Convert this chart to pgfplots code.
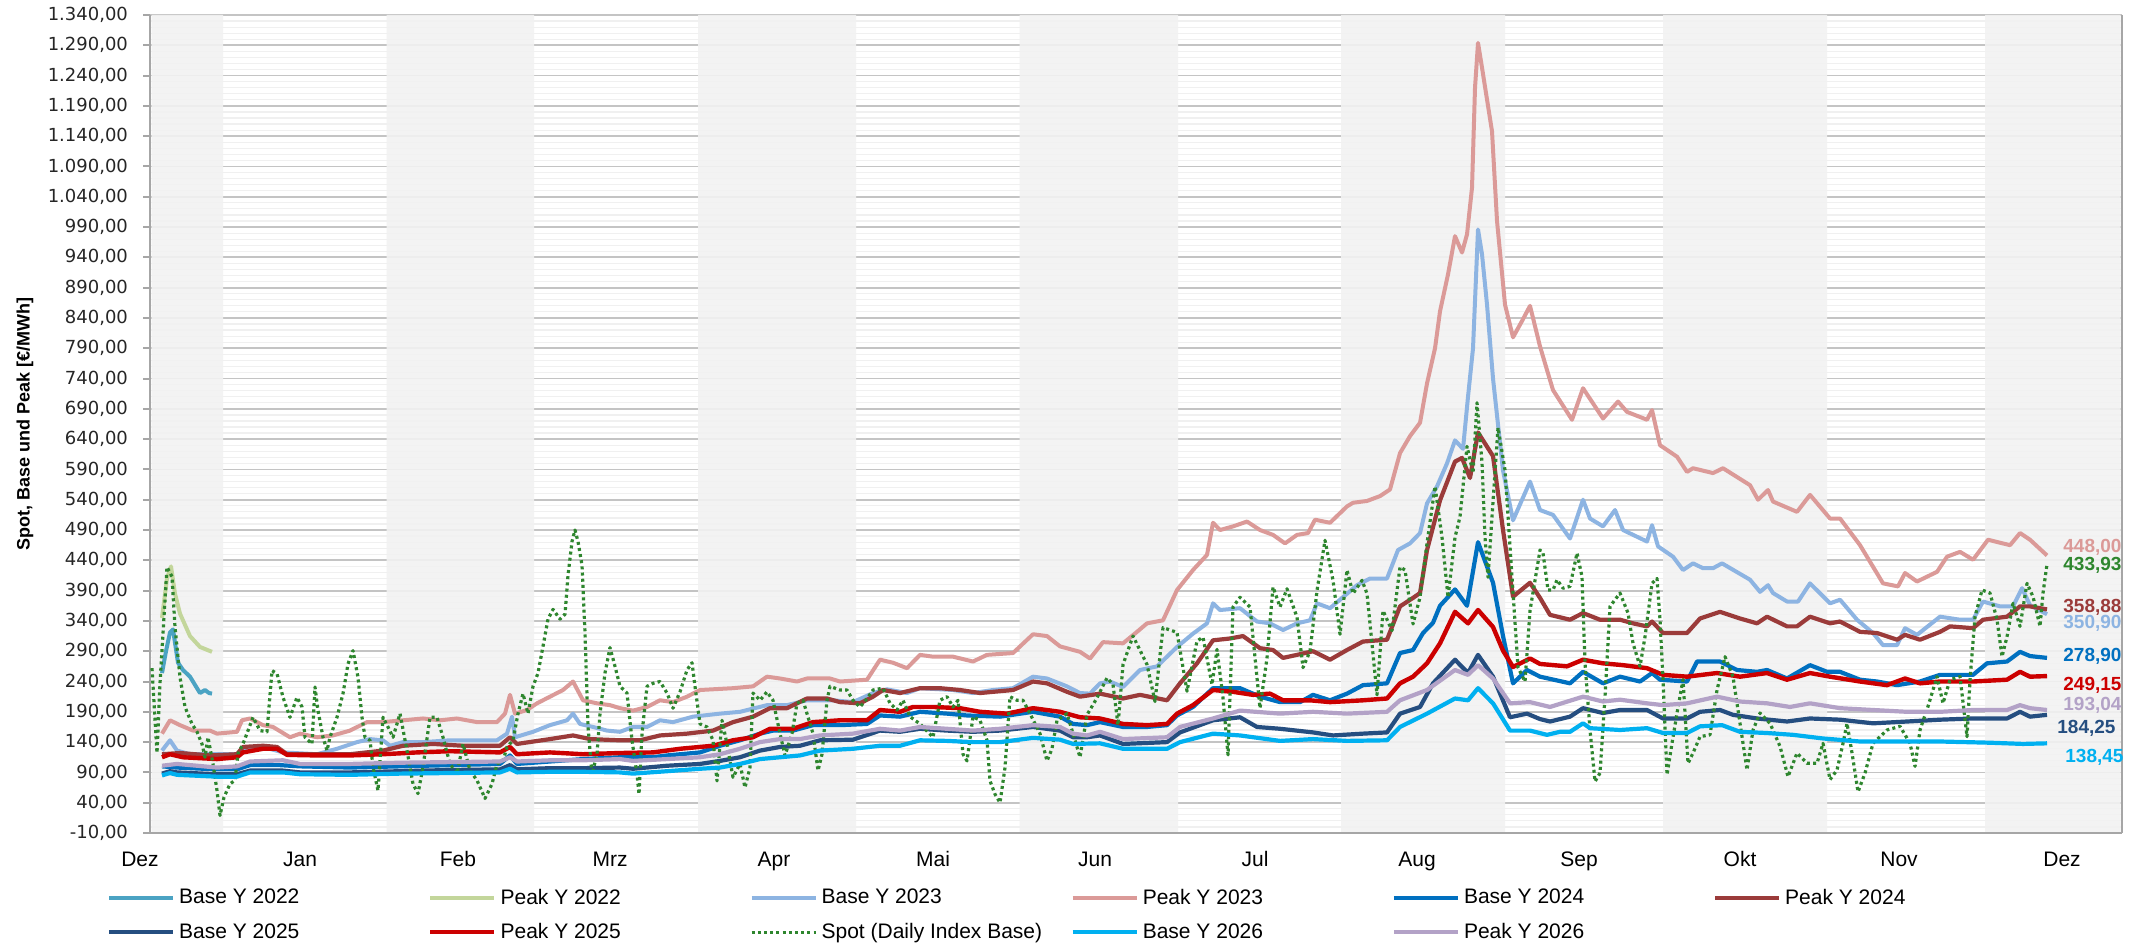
\documentclass[border=0pt]{standalone}
\usepackage{pgfplots}
\pgfplotsset{compat=1.18}
\usepackage{fontspec}
\setmainfont{Liberation Sans}
\newfontfamily\dejavu{DejaVu Sans}
\definecolor{cBaseA}{HTML}{4BA3C3}
\definecolor{cPeakA}{HTML}{C3D69B}
\definecolor{cBaseB}{HTML}{8DB4E2}
\definecolor{cPeakB}{HTML}{DB9A98}
\definecolor{cBaseC}{HTML}{0070C0}
\definecolor{cPeakC}{HTML}{9B3B3A}
\definecolor{cBaseD}{HTML}{254E80}
\definecolor{cPeakD}{HTML}{CC0000}
\definecolor{cSpot}{HTML}{2E862E}
\definecolor{cBaseE}{HTML}{00B0F0}
\definecolor{cPeakE}{HTML}{B3A2C7}
\definecolor{axisgray}{HTML}{A6A6A6}
\definecolor{gridmaj}{HTML}{C4C4C4}
\definecolor{gridmin}{HTML}{F0F0F0}
\definecolor{bandgray}{HTML}{F2F2F2}
\definecolor{tickcol}{HTML}{262626}
\tikzset{vlab/.style={anchor=west, inner sep=0pt, font=\bfseries\fontsize{9.5}{11}\selectfont}}
\pgfplotsset{band/.style={forget plot, on layer=pre main, draw=none, fill=bandgray, fill opacity=0.9}}
\begin{document}
\begin{tikzpicture}
\begin{axis}[
  at={(75pt,55pt)}, anchor=south west,
  scale only axis, width=986pt, height=409pt,
  xmin=150, xmax=2122, ymin=-10, ymax=1340,
  set layers=standard,
  axis background/.style={fill=white},
  clip mode=individual,
  axis x line*=bottom, axis y line*=left,
  axis line style={-, draw=axisgray, line width=1.2pt},
  ytick={-10,40,...,1340},
  minor y tick num=4,
  ymajorgrids, yminorgrids,
  major grid style={draw=gridmaj, line width=0.9pt},
  minor grid style={draw=gridmin, line width=0.6pt},
  tick align=outside, major tick length=3.5pt, minor tick length=0pt,
  ytick style={draw=axisgray, line width=1pt},
  xtick={300,458,610,774,933,1095,1255,1417,1579,1740,1899,2062},
  xticklabels={Jan,Feb,Mrz,Apr,Mai,Jun,Jul,Aug,Sep,Okt,Nov,Dez},
  xtick style={draw=none},
  x tick label style={font=\fontsize{10.5}{12.6}\selectfont, yshift=-2.3pt},
  y tick label style={font=\dejavu\fontsize{9}{10.8}\selectfont, text=tickcol, xshift=-4pt},
  yticklabel style={/pgf/number format/fixed, /pgf/number format/fixed zerofill, /pgf/number format/precision=2, /pgf/number format/use comma, /pgf/number format/1000 sep={.}},
  /pgf/number format/assume math mode=true,
  ylabel={Spot, Base und Peak [€/MWh]},
  ylabel style={font=\bfseries\fontsize{9}{10.8}\selectfont, at={(axis description cs:-0.0634,0.5)}, anchor=center},
  legend columns=6,
  legend style={at={(axis description cs:-0.0218,-0.0635)}, anchor=north west, draw=none, fill=none, inner sep=0pt, outer sep=0pt, font=\fontsize{10.5}{12.6}\selectfont, row sep=4pt, /tikz/every even column/.append style={column sep=0pt}},
  legend image code/.code={\draw[#1] (0pt,0pt) -- (32pt,0pt);},
  every axis plot/.append style={line join=round},
]
\addplot[band] coordinates {(151.5,-8) (223,-8) (223,1340) (151.5,1340) (151.5,-8)};
\addplot[band] coordinates {(386.5,-8) (534,-8) (534,1340) (386.5,1340) (386.5,-8)};
\addplot[band] coordinates {(698,-8) (856,-8) (856,1340) (698,1340) (698,-8)};
\addplot[band] coordinates {(1019.5,-8) (1178,-8) (1178,1340) (1019.5,1340) (1019.5,-8)};
\addplot[band] coordinates {(1341,-8) (1505,-8) (1505,1340) (1341,1340) (1341,-8)};
\addplot[band] coordinates {(1663,-8) (1827,-8) (1827,1340) (1663,1340) (1663,-8)};
\addplot[band] coordinates {(1985,-8) (2120.5,-8) (2120.5,1340) (1985,1340) (1985,-8)};
\draw[axisgray, line width=1.2pt] (rel axis cs:1,0) -- (rel axis cs:1,1);

% Base Y 2022
\addplot[cBaseA, line width=2pt] coordinates {(162,254) (166,290) (170,321) (173,326) (175,304) (178,271) (183,259) (190,248) (197,229) (200,221) (205,226) (209,221) (212,220)};
\addlegendentry{\makebox[122.5pt][l]{Base Y 2022}}
% Peak Y 2022
\addplot[cPeakA, line width=2pt] coordinates {(162,345) (167,410) (171,430) (175,385) (180,352) (190,315) (200,297) (212,289)};
\addlegendentry{\makebox[122.5pt][l]{Peak Y 2022}}
% Base Y 2023
\addplot[cBaseB, line width=2pt] coordinates {(162,126) (170,143) (177,126) (190,120) (210,120) (237,120) (243,129) (263,132) (283,123) (317,120) (337,129) (357,140) (370,145) (383,143) (390,134) (403,140) (423,140) (450,143) (497,143) (507,154) (512,182) (515,148) (533,157) (550,168) (567,176) (573,187) (580,170) (593,165) (607,159) (620,157) (633,165) (647,165) (660,176) (673,173) (693,182) (720,187) (740,190) (767,201) (787,201) (807,209) (833,209) (853,206) (873,221) (887,227) (907,221) (920,229) (953,226) (973,221) (993,226) (1013,229) (1033,248) (1047,245) (1067,232) (1080,221) (1090,220) (1100,237) (1110,240) (1123,231) (1140,259) (1157,265) (1177,297) (1193,319) (1207,336) (1213,369) (1220,358) (1240,361) (1257,339) (1270,336) (1283,325) (1297,336) (1310,341) (1317,369) (1330,361) (1340,375) (1357,399) (1370,410) (1387,410) (1398,457) (1410,468) (1420,485) (1427,534) (1437,562) (1447,600) (1455,638) (1463,624) (1468,710) (1473,790) (1478,986) (1482,945) (1487,862) (1493,740) (1503,588) (1513,506) (1530,570) (1540,523) (1553,515) (1570,476) (1583,540) (1590,509) (1603,496) (1615,523) (1623,490) (1647,471) (1652,498) (1658,463) (1673,446) (1683,424) (1693,435) (1703,427) (1713,427) (1722,435) (1750,408) (1760,388) (1768,399) (1773,386) (1787,372) (1798,372) (1810,402) (1830,369) (1840,375) (1857,342) (1873,320) (1883,300) (1897,300) (1905,328) (1917,317) (1940,347) (1960,342) (1973,342) (1983,372) (2000,364) (2013,364) (2022,394) (2030,366) (2047,351)};
\addlegendentry{\makebox[122.5pt][l]{Base Y 2023}}
% Peak Y 2023
\addplot[cPeakB, line width=2pt] coordinates {(162,154) (170,176) (180,168) (193,159) (210,159) (217,154) (237,157) (242,176) (250,179) (263,168) (273,165) (290,148) (300,154) (317,148) (333,151) (350,159) (367,173) (383,173) (403,176) (423,179) (440,176) (457,179) (477,173) (497,173) (505,187) (510,218) (515,187) (527,193) (537,204) (550,215) (563,226) (573,240) (583,209) (597,204) (610,201) (620,196) (633,192) (647,198) (660,209) (673,206) (687,215) (700,226) (733,229) (753,232) (767,248) (780,245) (797,240) (807,245) (830,245) (840,240) (867,243) (880,276) (893,271) (907,262) (920,284) (933,281) (953,281) (973,273) (987,284) (1013,287) (1033,318) (1047,315) (1060,298) (1080,289) (1090,278) (1103,305) (1123,303) (1137,322) (1147,336) (1163,341) (1177,391) (1193,424) (1207,449) (1213,502) (1220,490) (1233,496) (1247,504) (1260,490) (1273,482) (1285,468) (1297,482) (1308,485) (1315,507) (1330,502) (1347,529) (1353,535) (1367,538) (1380,546) (1390,557) (1400,617) (1410,645) (1420,667) (1427,732) (1435,790) (1440,851) (1448,912) (1455,975) (1462,948) (1467,978) (1472,1055) (1475,1220) (1478,1294) (1482,1253) (1492,1148) (1497,1000) (1505,862) (1513,808) (1522,835) (1530,860) (1540,793) (1547,754) (1553,721) (1572,672) (1583,724) (1603,674) (1618,702) (1627,685) (1647,672) (1652,688) (1660,630) (1677,611) (1687,586) (1693,592) (1713,584) (1723,592) (1750,564) (1758,540) (1768,556) (1773,537) (1797,520) (1810,548) (1830,509) (1840,509) (1860,465) (1883,402) (1898,397) (1905,419) (1917,405) (1937,421) (1947,446) (1960,454) (1973,441) (1988,474) (2010,465) (2020,485) (2030,474) (2047,448)};
\addlegendentry{\makebox[122.5pt][l]{Peak Y 2023}}
% Base Y 2024
\addplot[cBaseC, line width=2.1pt] coordinates {(162,100) (177,98) (217,95) (237,95) (250,102) (280,102) (300,100) (350,98) (400,100) (450,102) (500,104) (510,118) (517,104) (550,108) (583,112) (620,115) (653,115) (667,118) (700,123) (720,134) (740,143) (760,154) (773,159) (793,159) (813,168) (840,168) (867,170) (880,184) (900,182) (920,190) (947,187) (967,184) (1000,182) (1033,190) (1060,182) (1073,170) (1087,168) (1100,173) (1123,165) (1147,165) (1167,168) (1177,184) (1193,198) (1213,229) (1240,229) (1260,215) (1280,206) (1300,206) (1313,218) (1330,209) (1347,220) (1363,234) (1387,237) (1400,287) (1413,292) (1423,320) (1433,337) (1440,365) (1455,392) (1467,365) (1478,470) (1493,403) (1503,315) (1513,237) (1527,259) (1540,248) (1570,237) (1583,256) (1603,237) (1620,248) (1640,240) (1652,254) (1660,243) (1687,240) (1697,273) (1720,273) (1737,259) (1757,256) (1767,259) (1787,245) (1810,267) (1827,256) (1840,256) (1860,243) (1877,240) (1897,234) (1920,240) (1940,251) (1973,251) (1987,270) (2007,273) (2020,289) (2030,282) (2047,279)};
\addlegendentry{\makebox[122.5pt][l]{Base Y 2024}}
% Peak Y 2024
\addplot[cPeakC, line width=2.1pt] coordinates {(162,120) (180,122) (210,118) (237,120) (243,132) (263,134) (277,132) (287,120) (350,120) (383,126) (403,134) (433,137) (463,134) (500,134) (510,148) (517,137) (550,145) (573,151) (590,145) (620,143) (640,143) (660,151) (687,154) (713,159) (733,173) (753,182) (770,196) (787,196) (807,212) (827,212) (840,206) (860,204) (873,215) (883,226) (900,221) (920,229) (940,229) (960,226) (980,221) (1013,226) (1033,240) (1047,237) (1067,223) (1080,215) (1100,220) (1123,212) (1140,218) (1167,209) (1180,237) (1197,270) (1213,308) (1230,311) (1243,315) (1260,295) (1273,292) (1283,279) (1297,284) (1313,290) (1330,276) (1347,292) (1363,306) (1387,309) (1400,364) (1413,378) (1420,386) (1427,457) (1440,539) (1455,603) (1462,609) (1470,576) (1478,651) (1493,612) (1503,490) (1513,380) (1530,403) (1540,378) (1550,350) (1570,342) (1583,353) (1600,342) (1620,342) (1633,336) (1647,331) (1652,339) (1663,320) (1687,320) (1700,344) (1720,355) (1740,344) (1757,336) (1767,347) (1787,331) (1797,331) (1810,347) (1830,336) (1840,339) (1860,322) (1877,320) (1897,309) (1905,317) (1920,309) (1940,322) (1950,331) (1973,328) (1983,342) (2007,347) (2020,364) (2030,364) (2047,359)};
\addlegendentry{\makebox[122.5pt][l]{Peak Y 2024}}
% Base Y 2025
\addplot[cBaseD, line width=2.1pt] coordinates {(162,88) (170,92) (177,90) (217,87) (237,87) (250,93) (283,93) (300,90) (350,90) (400,92) (450,94) (500,95) (510,102) (517,95) (550,97) (583,97) (620,98) (633,96) (667,101) (700,104) (720,109) (740,115) (760,126) (780,132) (800,134) (820,143) (853,144) (880,159) (900,157) (920,162) (947,159) (973,157) (1000,159) (1033,165) (1060,159) (1073,148) (1087,148) (1100,151) (1123,137) (1167,140) (1180,156) (1213,176) (1240,181) (1257,165) (1280,162) (1313,156) (1333,151) (1363,154) (1387,156) (1400,187) (1420,198) (1433,237) (1455,276) (1468,254) (1478,284) (1493,248) (1510,181) (1527,187) (1540,178) (1550,174) (1570,182) (1583,196) (1603,188) (1620,193) (1647,193) (1663,179) (1687,179) (1700,190) (1720,193) (1733,185) (1757,179) (1787,174) (1810,179) (1840,177) (1873,171) (1907,174) (1940,177) (1973,179) (2007,179) (2020,190) (2030,182) (2047,185)};
\addlegendentry{\makebox[122.5pt][l]{Base Y 2025}}
% Peak Y 2025
\addplot[cPeakD, line width=2.2pt] coordinates {(162,115) (170,120) (183,115) (217,112) (237,115) (243,123) (263,129) (277,129) (287,119) (317,118) (350,118) (383,120) (417,123) (450,125) (500,123) (510,132) (517,120) (550,123) (583,120) (620,122) (653,123) (680,129) (713,134) (733,143) (753,148) (770,162) (793,162) (813,173) (840,176) (867,176) (880,193) (900,190) (913,198) (933,198) (960,196) (980,190) (1007,187) (1033,196) (1060,190) (1080,181) (1100,179) (1123,170) (1147,168) (1167,170) (1177,187) (1193,201) (1213,226) (1233,223) (1253,218) (1270,220) (1283,209) (1310,209) (1330,206) (1363,209) (1387,212) (1400,237) (1413,248) (1427,270) (1440,303) (1455,355) (1468,336) (1478,358) (1493,330) (1503,291) (1513,264) (1530,278) (1540,269) (1567,265) (1583,276) (1603,270) (1623,267) (1647,262) (1663,251) (1687,248) (1717,254) (1740,248) (1767,254) (1787,243) (1810,254) (1830,248) (1860,240) (1887,234) (1905,245) (1920,237) (1940,240) (1973,240) (2007,243) (2020,256) (2030,248) (2047,249)};
\addlegendentry{\makebox[122.5pt][l]{Peak Y 2025}}
% Spot
\addplot[cSpot, line width=1.6pt, dash pattern=on 1.5pt off 1.6pt] coordinates {(152,262) (157,122) (160,237) (167,429) (172,413) (175,330) (180,247) (185,198) (192,170) (197,157) (202,137) (205,115) (208,148) (213,104) (217,60) (220,19) (224,49) (230,71) (235,77) (238,121) (243,137) (253,181) (260,159) (267,157) (272,258) (277,253) (283,214) (290,181) (297,214) (302,198) (305,148) (312,137) (315,231) (318,192) (323,148) (327,126) (330,148) (337,181) (343,220) (348,269) (353,291) (358,247) (362,181) (365,148) (370,143) (373,99) (378,60) (383,181) (388,165) (393,148) (400,187) (407,126) (413,71) (418,55) (423,99) (430,181) (437,181) (443,148) (450,104) (457,88) (463,137) (470,93) (477,77) (485,47) (492,71) (497,104) (503,109) (507,132) (513,143) (518,187) (523,220) (528,187) (533,232) (538,254) (543,298) (548,343) (553,359) (560,343) (565,351) (568,415) (572,471) (575,490) (578,471) (582,432) (585,321) (588,165) (592,87) (597,120) (600,187) (605,254) (610,296) (615,265) (620,232) (627,221) (632,143) (637,87) (639,54) (642,154) (647,232) (653,237) (660,240) (667,221) (673,196) (680,223) (687,259) (692,271) (695,232) (700,170) (707,165) (713,143) (717,76) (722,176) (727,137) (733,82) (740,104) (745,65) (750,98) (753,221) (760,209) (767,223) (773,209) (780,154) (785,118) (792,154) (797,204) (803,209) (807,187) (813,154) (818,93) (822,120) (827,209) (830,232) (840,226) (847,226) (853,209) (860,198) (867,212) (873,226) (883,229) (890,204) (897,193) (903,209) (910,182) (920,170) (933,148) (940,209) (947,215) (953,198) (958,209) (963,120) (967,109) (973,182) (980,176) (987,143) (990,76) (995,54) (1000,40) (1005,98) (1010,215) (1017,209) (1023,209) (1030,187) (1040,154) (1047,109) (1052,129) (1057,176) (1067,187) (1073,154) (1080,115) (1087,185) (1097,213) (1107,246) (1113,235) (1118,168) (1123,268) (1133,315) (1147,268) (1155,207) (1163,329) (1177,321) (1187,224) (1197,307) (1203,313) (1212,235) (1217,293) (1223,213) (1228,119) (1233,363) (1240,379) (1250,363) (1260,196) (1267,279) (1273,396) (1280,363) (1287,393) (1297,346) (1303,263) (1310,290) (1317,390) (1325,473) (1333,407) (1340,318) (1347,424) (1353,385) (1362,407) (1367,385) (1372,302) (1377,218) (1383,357) (1392,324) (1400,429) (1405,424) (1413,335) (1420,379) (1427,468) (1435,562) (1442,478) (1448,379) (1455,478) (1460,512) (1467,628) (1473,584) (1477,700) (1482,601) (1485,478) (1488,412) (1492,512) (1498,659) (1505,589) (1512,412) (1518,263) (1525,240) (1530,357) (1540,457) (1543,452) (1548,391) (1553,391) (1557,408) (1563,394) (1570,397) (1577,452) (1582,413) (1585,270) (1590,160) (1595,75) (1600,89) (1605,215) (1610,364) (1620,386) (1628,353) (1633,303) (1640,265) (1645,314) (1652,402) (1657,410) (1660,342) (1663,243) (1667,86) (1672,138) (1677,188) (1683,243) (1688,105) (1693,122) (1700,149) (1710,152) (1717,226) (1725,281) (1733,248) (1740,171) (1747,94) (1753,160) (1760,188) (1770,171) (1780,133) (1788,83) (1797,122) (1807,105) (1817,105) (1823,138) (1830,78) (1837,94) (1843,138) (1847,171) (1852,122) (1858,58) (1865,89) (1873,138) (1887,160) (1900,166) (1910,138) (1915,100) (1920,160) (1928,199) (1937,248) (1943,204) (1950,243) (1960,248) (1967,149) (1970,243) (1975,347) (1982,391) (1990,386) (1997,342) (2002,281) (2007,314) (2013,369) (2020,331) (2027,402) (2033,380) (2040,331) (2043,386) (2047,434)};
\addlegendentry{\makebox[122.5pt][l]{Spot (Daily Index Base)}}
% Base Y 2026
\addplot[cBaseE, line width=2.1pt] coordinates {(162,85) (170,89) (177,86) (217,83) (237,83) (250,90) (283,90) (300,87) (350,86) (400,88) (450,89) (500,90) (510,96) (517,90) (550,91) (583,91) (620,90) (633,88) (667,92) (700,96) (720,98) (740,104) (760,112) (780,115) (800,118) (820,126) (853,129) (880,134) (900,134) (920,143) (947,142) (973,140) (1000,140) (1033,147) (1060,144) (1073,137) (1100,138) (1123,129) (1167,129) (1180,140) (1213,154) (1240,151) (1280,142) (1313,145) (1347,142) (1387,143) (1400,165) (1427,187) (1455,212) (1468,209) (1478,229) (1493,204) (1510,159) (1530,159) (1547,152) (1560,157) (1570,157) (1583,171) (1590,163) (1620,160) (1647,163) (1663,155) (1687,155) (1700,166) (1722,168) (1740,157) (1767,155) (1793,152) (1823,146) (1860,141) (1890,141) (1940,141) (1990,139) (2023,137) (2047,138)};
\addlegendentry{\makebox[122.5pt][l]{Base Y 2026}}
% Peak Y 2026
\addplot[cPeakE, line width=2.1pt] coordinates {(162,101) (177,104) (217,98) (237,100) (250,108) (283,110) (300,104) (350,104) (400,106) (450,107) (500,108) (510,115) (517,108) (550,110) (583,110) (620,112) (633,109) (667,112) (700,115) (720,120) (740,129) (760,140) (780,145) (800,145) (820,151) (853,154) (880,162) (900,159) (920,165) (947,162) (973,159) (1000,162) (1033,168) (1060,165) (1073,154) (1087,151) (1100,157) (1123,145) (1167,148) (1180,165) (1213,179) (1240,192) (1280,187) (1313,190) (1347,187) (1387,190) (1400,209) (1427,226) (1455,259) (1468,251) (1478,267) (1493,245) (1510,204) (1530,206) (1550,198) (1583,215) (1603,207) (1620,210) (1647,204) (1663,201) (1687,204) (1717,215) (1740,207) (1767,204) (1790,198) (1810,204) (1840,196) (1873,193) (1907,190) (1940,190) (1973,193) (2007,193) (2020,201) (2030,196) (2047,193)};
\addlegendentry{\makebox[122.5pt][l]{Peak Y 2026}}

\node[anchor=north, font=\fontsize{10.5}{12.6}\selectfont, yshift=-5.8pt] at (axis cs:140,-10) {Dez};
\node[vlab, text=cPeakB] at (axis cs:2063,461) {448,00};
\node[vlab, text=cSpot] at (axis cs:2063,431) {433,93};
\node[vlab, text=cPeakC] at (axis cs:2063,363) {358,88};
\node[vlab, text=cBaseB] at (axis cs:2063,336) {350,90};
\node[vlab, text=cBaseC] at (axis cs:2063,282) {278,90};
\node[vlab, text=cPeakD] at (axis cs:2063,233) {249,15};
\node[vlab, text=cPeakE] at (axis cs:2063,201) {193,04};
\node[vlab, text=cBaseD] at (axis cs:2057,162) {184,25};
\node[vlab, text=cBaseE] at (axis cs:2065,115) {138,45};
\end{axis}
\pgfresetboundingbox
\useasboundingbox (0,0) rectangle (1072.5pt,471.5pt);
\end{tikzpicture}
\end{document}
